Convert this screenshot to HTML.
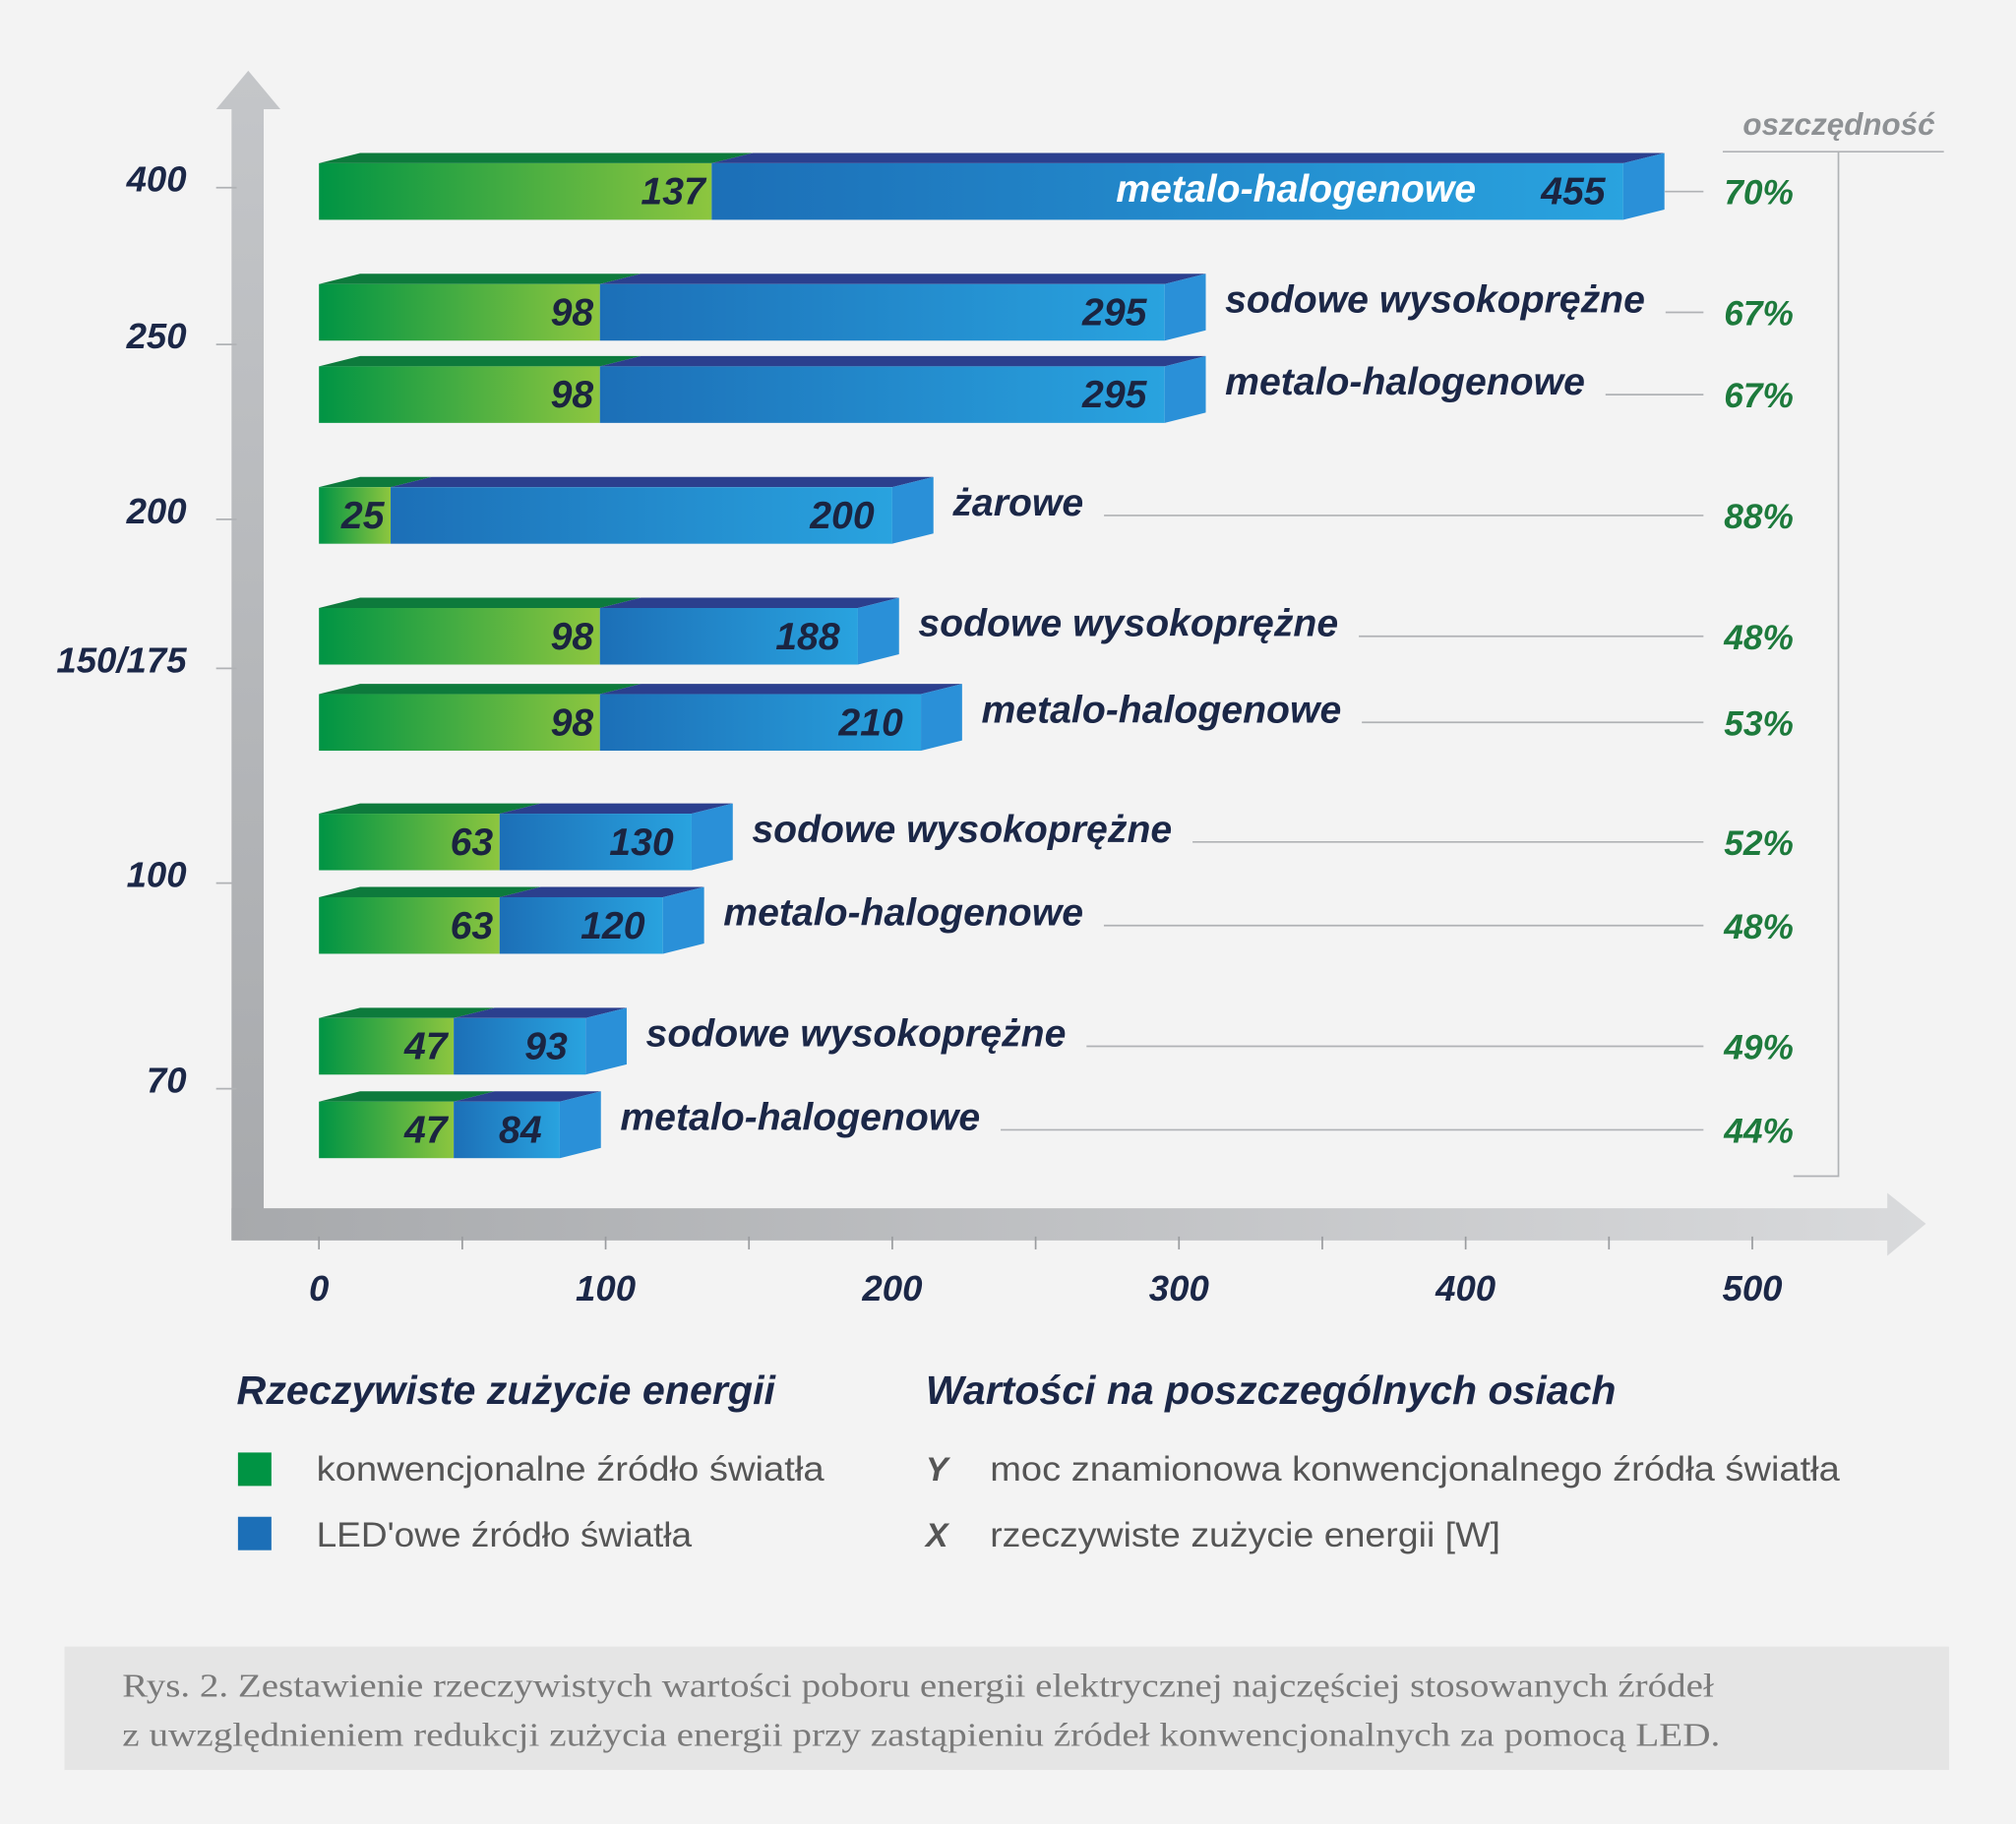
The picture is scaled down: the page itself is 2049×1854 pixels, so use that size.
<!DOCTYPE html>
<html><head><meta charset="utf-8"><style>
html,body{margin:0;padding:0;background:#f3f3f3}
svg{display:block}
.lbl{font-family:"Liberation Sans",sans-serif;font-weight:bold;font-style:italic}
</style></head><body>
<svg id="chart" xmlns="http://www.w3.org/2000/svg" width="2049" height="1854" viewBox="0 0 1568 1419">
<defs>
<linearGradient id="gG" x1="0" x2="1"><stop offset="0" stop-color="#009444"/><stop offset="1" stop-color="#8dc63f"/></linearGradient>
<linearGradient id="gB" x1="0" x2="1"><stop offset="0" stop-color="#1c6fb7"/><stop offset="1" stop-color="#29a3df"/></linearGradient>
<linearGradient id="gAxV" x1="0" y1="0" x2="0" y2="1"><stop offset="0" stop-color="#c4c6c9"/><stop offset="1" stop-color="#a7a9ac"/></linearGradient>
<linearGradient id="gAxH" x1="0" x2="1"><stop offset="0" stop-color="#a7a9ac"/><stop offset="1" stop-color="#d9dadc"/></linearGradient>
</defs>
<rect width="1568" height="1419" fill="#f3f3f3"/>
<g id="axes">
<polygon points="180,965 180,85 168,85 193,55 218,85 205,85 205,940" fill="url(#gAxV)"/>
<polygon points="180,965 180,940 1468,940 1468,928 1498,952 1468,977 1468,965" fill="url(#gAxH)"/>
</g>
<g id="bars"></g>
<g id="ticks"></g>
<g stroke="#b0b2b5" stroke-width="1.3" fill="none">
<polyline points="1340,118 1512,118"/><polyline points="1430,118 1430,915 1395,915"/>
</g>
<text class="lbl" x="1505" y="105" text-anchor="end" font-size="24" fill="#8e9194">oszczędność</text>
<g>
<text class="lbl" x="184" y="1092" font-size="31" fill="#1b2747" textLength="419" lengthAdjust="spacingAndGlyphs">Rzeczywiste zużycie energii</text>
<rect x="185" y="1130" width="26" height="26" fill="#009444"/>
<text x="246" y="1152" font-family="Liberation Sans,sans-serif" font-size="27" fill="#555" textLength="395" lengthAdjust="spacingAndGlyphs">konwencjonalne źródło światła</text>
<rect x="185" y="1180" width="26" height="26" fill="#1c6fb7"/>
<text x="246" y="1203" font-family="Liberation Sans,sans-serif" font-size="27" fill="#555" textLength="292" lengthAdjust="spacingAndGlyphs">LED'owe źródło światła</text>
<text class="lbl" x="720" y="1092" font-size="31" fill="#1b2747" textLength="537" lengthAdjust="spacingAndGlyphs">Wartości na poszczególnych osiach</text>
<text class="lbl" x="720" y="1152" font-size="26" fill="#555">Y</text>
<text x="770" y="1152" font-family="Liberation Sans,sans-serif" font-size="27" fill="#555" textLength="661" lengthAdjust="spacingAndGlyphs">moc znamionowa konwencjonalnego źródła światła</text>
<text class="lbl" x="720" y="1203" font-size="26" fill="#555">X</text>
<text x="770" y="1203" font-family="Liberation Sans,sans-serif" font-size="27" fill="#555" textLength="397" lengthAdjust="spacingAndGlyphs">rzeczywiste zużycie energii [W]</text>
</g>
<rect x="50" y="1281" width="1466" height="96" fill="#e5e5e5"/>
<text font-family="Liberation Serif,serif" font-size="26" fill="#7a7a7a"><tspan x="95" y="1320" textLength="1238" lengthAdjust="spacingAndGlyphs">Rys. 2. Zestawienie rzeczywistych wartości poboru energii elektrycznej najczęściej stosowanych źródeł</tspan><tspan x="95" y="1358" textLength="1243" lengthAdjust="spacingAndGlyphs">z uwzględnieniem redukcji zużycia energii przy zastąpieniu źródeł konwencjonalnych za pomocą LED.</tspan></text>
</svg>
<script>
const conventional=[137,98,98,25,98,98,63,63,47,47];
const led=[455,295,295,200,188,210,130,120,93,84];
const savings=["70%","67%","67%","88%","48%","53%","52%","48%","49%","44%"];
const types=["metalo-halogenowe","sodowe wysokoprężne","metalo-halogenowe","żarowe","sodowe wysokoprężne","metalo-halogenowe","sodowe wysokoprężne","metalo-halogenowe","sodowe wysokoprężne","metalo-halogenowe"];
const yTickLabels=["400","250","200","150/175","100","70"];
const xTicks=[0,100,200,300,400,500];
const rowTops=[127,221,285,379,473,540,633,698,792,857];
const yTickPos=[146,268,404,520,687,847];
const NS="http://www.w3.org/2000/svg";
const X0=248,XS=2.23,BH=44,D=32,H=8;
const xs=v=>X0+v*XS;
function mk(tag,attrs,parent){const e=document.createElementNS(NS,tag);for(const k in attrs)e.setAttribute(k,attrs[k]);parent.appendChild(e);return e;}
const bars=document.getElementById('bars'),ticks=document.getElementById('ticks');
for(let i=0;i<led.length;i++){
  const g=mk('g',{},bars);
  
  
  const y=rowTops[i],xg=xs(conventional[i]),xb=xs(led[i]);
  const tg=mk('polygon',{points:`${X0},${y} ${X0+D},${y-H} ${xg+D},${y-H} ${xg},${y}`,fill:'#0d7a3c'},g);
  
  
  const tb=mk('polygon',{points:`${xg},${y} ${xg+D},${y-H} ${xb+D},${y-H} ${xb},${y}`,fill:'#2b3f8e'},g);
  
  
  const rg=mk('rect',{x:X0,y:y,width:xg-X0,height:BH,fill:'url(#gG)'},g);
  
  
  const rb=mk('rect',{x:xg,y:y,width:xb-xg,height:BH,fill:'url(#gB)'},g);
  
  
  const sd=mk('polygon',{points:`${xb},${y} ${xb+D},${y-H} ${xb+D},${y+BH-H} ${xb},${y+BH}`,fill:'#2a90d8'},g);
  
  
  const cy=y+BH/2+10;
  const vg=mk('text',{x:xg-5,y:cy,'text-anchor':'end','font-size':30,fill:'#1b2440',class:'lbl'},g);
  vg.textContent=conventional[i];
  
  
  const vb=mk('text',{x:xb-14,y:cy,'text-anchor':'end','font-size':30,fill:'#1b2440',class:'lbl'},g);
  vb.textContent=led[i];
  
  
  let lblEnd;
  if(i===0){
    const t=mk('text',{x:1148,y:y+BH/2-2+10,'text-anchor':'end','font-size':30,fill:'#fff',class:'lbl'},g);
    t.textContent=types[i];
    
    
    lblEnd=1295;
  }else{
    const t=mk('text',{x:xb+D+15,y:y+BH/2-2+2,'font-size':30,fill:'#1b2747',class:'lbl'},g);
    t.textContent=types[i];
    
    
    lblEnd=xb+D+15+t.getComputedTextLength()+16;
  }
  const ly=y+BH/2;
  const ln=mk('line',{x1:lblEnd,y1:ly,x2:1325,y2:ly,stroke:'#b0b2b5','stroke-width':1.3},g);
  
  
  const p=mk('text',{x:1368,y:ly+10,'text-anchor':'middle','font-size':27,fill:'#1d7a3c',class:'lbl'},g);
  p.textContent=savings[i];
  
  
}
for(let i=0;i<yTickLabels.length;i++){
  const y=yTickPos[i];
  const l=mk('line',{x1:168,y1:y,x2:184,y2:y,stroke:'#b0b2b5','stroke-width':1.3},ticks);
  
  
  const t=mk('text',{x:145,y:y+3,'text-anchor':'end','font-size':28,fill:'#1b2747',class:'lbl'},ticks);
  t.textContent=yTickLabels[i];
  
  
}
for(let v=0;v<=500;v+=50){
  const l=mk('line',{x1:xs(v),y1:962,x2:xs(v),y2:972,stroke:'#9a9c9f','stroke-width':1.3},ticks);
  
  
}
for(const v of xTicks){
  const t=mk('text',{x:xs(v),y:1012,'text-anchor':'middle','font-size':28,fill:'#1b2747',class:'lbl'},ticks);
  t.textContent=v;
  
  
}
</script>
</body></html>
